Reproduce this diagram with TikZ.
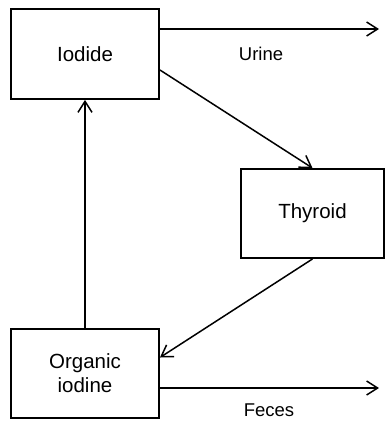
\documentclass[tikz,border=0pt]{standalone}
\usepackage{fontspec}
\setmainfont{Liberation Sans}
\usetikzlibrary{arrows.meta}
\tikzset{
  box/.style={draw, line width=1.9pt, rectangle, align=center, font=\fontsize{20.5}{25}\selectfont, inner sep=0pt},
  flow/.style={line width=1.5pt, -{Straight Barb[length=11pt,width=14pt,line width=1.5pt]}},
  lbl/.style={font=\fontsize{18.5}{22}\selectfont, inner sep=0pt}
}
\begin{document}
\begin{tikzpicture}[x=1pt,y=-1pt]
\useasboundingbox (0,0) rectangle (385,421);
\node[box, minimum width=148pt, minimum height=90pt] (iod) at (85,54) {Iodide};
\node[box, minimum width=143pt, minimum height=89pt] (thy) at (312.5,213.5) {Thyroid};
\node[box, minimum width=148pt, minimum height=89pt] (org) at (85,373.5) {Organic\\[-1pt]iodine};
\coordinate (urineEnd) at (379,29);
\coordinate (fecesEnd) at (379,388);
\draw[flow] ([yshift=25pt]iod.east) -- (urineEnd);
\draw[flow] ([yshift=-16pt]iod.east) -- (thy.north);
\draw[flow] (thy.south) -- ([yshift=16pt]org.east);
\draw[flow] (org.north) -- (iod.south);
\draw[flow] ([yshift=-14.5pt]org.east) -- (fecesEnd);
\node[lbl] (urine) at (261,54) {Urine};
\node[lbl] (feces) at (269,410) {Feces};
\end{tikzpicture}
\end{document}
